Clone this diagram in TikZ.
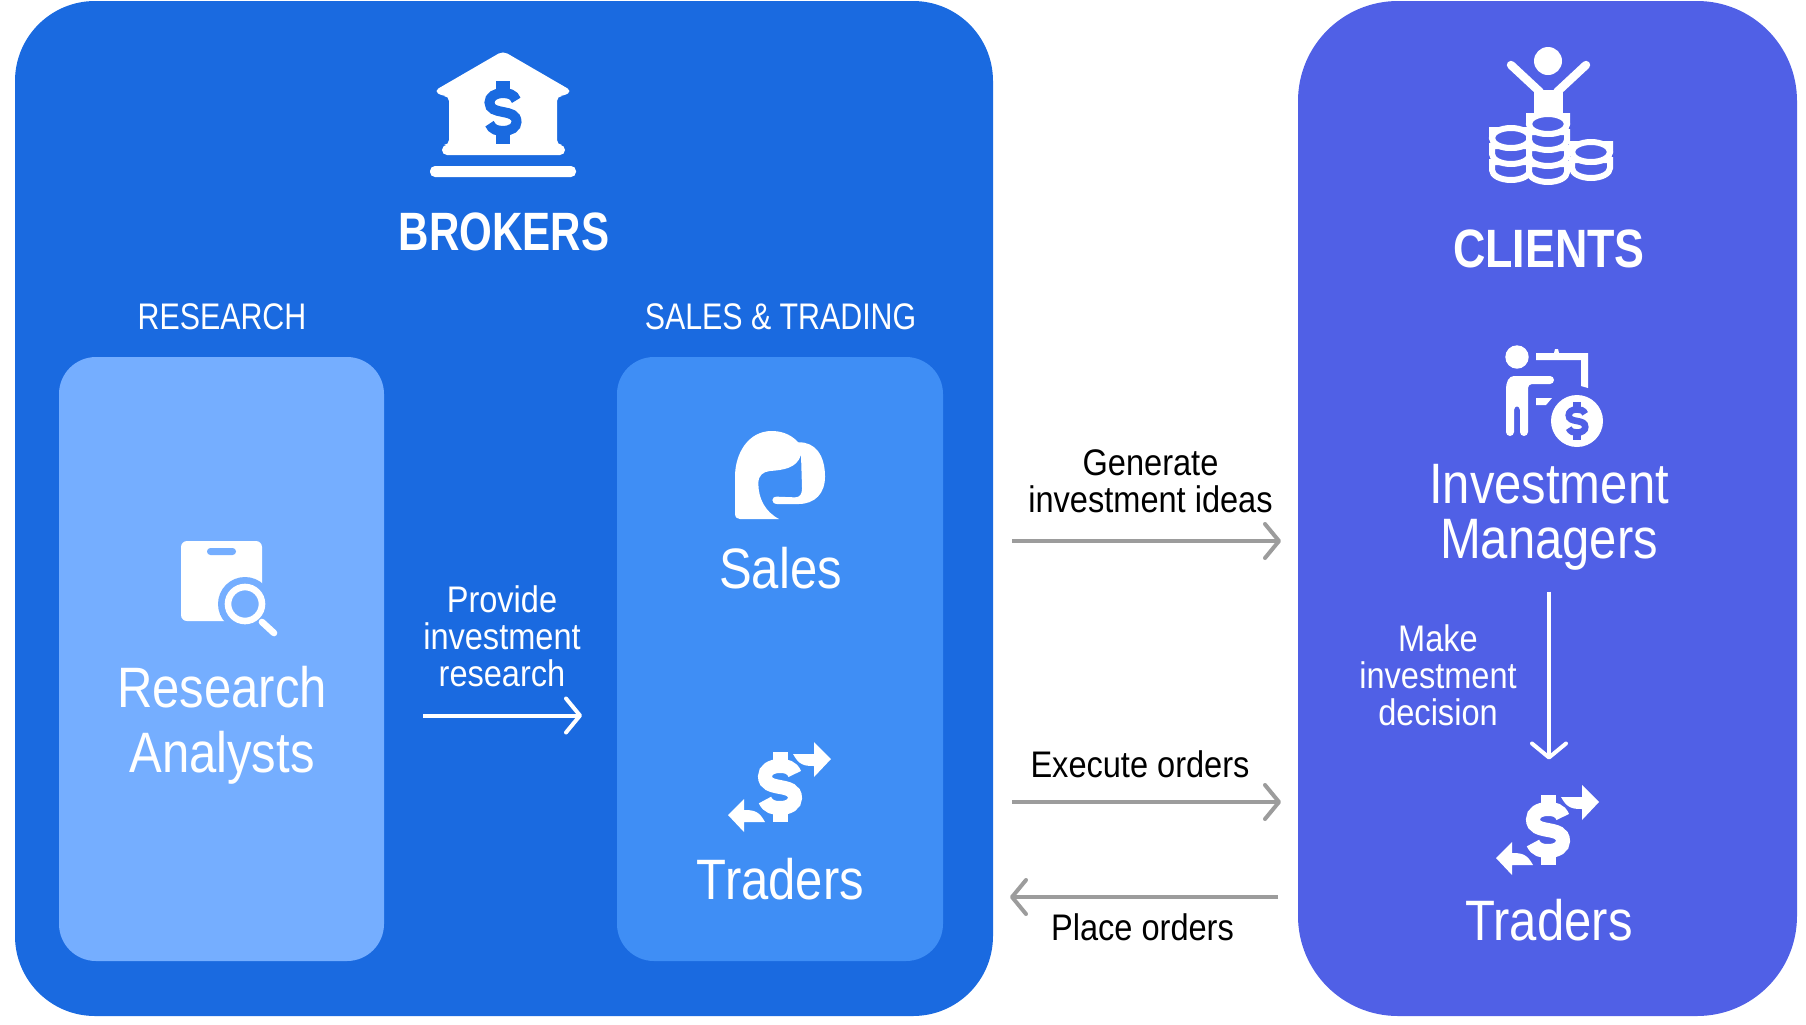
\documentclass[tikz,border=0pt]{standalone}
\usepackage{fontspec}
\setmainfont{Liberation Sans}
\newfontfamily\titlefont[FakeStretch=0.78]{Liberation Sans Bold}
\newfontfamily\clientfont[FakeStretch=0.83]{Liberation Sans Bold}
\newfontfamily\headfont[FakeStretch=0.82]{Liberation Sans}
\newfontfamily\rolefont[FakeStretch=0.86]{Liberation Sans}
\newfontfamily\flowfont[FakeStretch=0.88]{Liberation Sans}
\usetikzlibrary{arrows.meta}

\definecolor{brokerblue}{HTML}{1A6AE0}
\definecolor{clientblue}{HTML}{5060E6}
\definecolor{researchblue}{HTML}{75AEFF}
\definecolor{salesblue}{HTML}{3F8EF5}
\definecolor{flowgrey}{HTML}{9C9C9C}

\tikzset{
    panel/.style={rounded corners=#1,draw=none},
    title/.style={text=white,font=\titlefont\fontsize{27}{30}\selectfont},
    head/.style={text=white,font=\headfont\fontsize{18.5}{20}\selectfont},
    role/.style={text=white,align=center,font=\rolefont\fontsize{28.5}{32.5}\selectfont},
    flowtext/.style={align=center,font=\flowfont\fontsize{18.5}{18.5}\selectfont},
    flow/.style={line width=2pt,draw=flowgrey,-{Straight Barb[length=7pt,width=17pt,round]}},
    whiteflow/.style={flow,draw=white},
    coin/.style={line width=3pt,draw=white,fill=#1},
}

% dollar sign: x, y, scale, line width, colour
\newcommand{\dollarmark}[5]{
    \begin{scope}[shift={(#1,#2)},scale=#3]
        \draw[#5,line width=#4] (14.7,-13) .. controls (12,-20) and (6,-21) .. (0,-21)
            .. controls (-9,-21) and (-15,-17) .. (-15,-10.5)
            .. controls (-15,-3) and (-8,-1.5) .. (0,0)
            .. controls (8,1.5) and (15,3) .. (15,11)
            .. controls (15,17) and (9,21) .. (0,21)
            .. controls (-6,21) and (-12,20) .. (-15,13);
        \fill[#5] (-7.5,-35) rectangle (7.5,-22);
        \fill[#5] (-7.5,22) rectangle (7.5,35);
    \end{scope}
}
% stack of coins: x, y of the top coin, number of layers
\newcommand{\coinstack}[3]{
    \foreach \n in {#3,...,1}{
        \draw[coin=clientblue] (#1-19,{#2+(\n-1)*16}) arc (180:0:19 and 10) -- ++(0,-8) -- ++(-38,0) -- cycle;
    }
    \draw[coin=clientblue] (#1,#2) ellipse (19 and 10);
}
% trader arrows round the dollar
\newcommand{\tradeicon}[2]{
    \dollarmark{#1}{#2}{1}{7pt}{white}
    \begin{scope}[shift={(#1,#2)}]
        \fill[white] (13,-33) -- (34,-33) -- (34,-45) -- (51,-28) -- (34,-10) -- (34,-21)
            .. controls (24,-21) and (19,-22) .. (13,-33) -- cycle;
        \fill[white] (-15,35) -- (-36,35) -- (-36,45) -- (-52,28) -- (-36,12) -- (-36,23)
            .. controls (-26,23) and (-21,24) .. (-15,35) -- cycle;
    \end{scope}
}

\begin{document}
\begin{tikzpicture}[x=0.5pt,y=-0.5pt]
    \useasboundingbox (0,0) rectangle (1806,1024);

    \fill[panel=40pt,brokerblue] (15,1) rectangle (993,1016);
    \fill[panel=50pt,clientblue] (1298,1) rectangle (1797,1016);
    \fill[panel=18.5pt,researchblue] (59,357) rectangle (384,961);
    \fill[panel=18.5pt,salesblue] (617,357) rectangle (943,961);

    % bank
    \fill[white,rounded corners=2.5pt] (503,51) -- (572,91) -- (564,96) -- (557,96) -- (557,145) -- (565,145)
        -- (565,155) -- (442,155) -- (442,145) -- (449,145) -- (449,96) -- (442,96) -- (434,91) -- cycle;
    \fill[white,rounded corners=2.5pt] (430,166) rectangle (576,177);
    \dollarmark{503}{112}{0.9}{5pt}{brokerblue}

    \node[title] (brokers) at (504,232) {BROKERS};
    \node[head] (research) at (222,317) {RESEARCH};
    \node[head] (salestrading) at (780.5,317) {SALES \& TRADING};

    % report with magnifier
    \fill[white,rounded corners=3pt] (181,541) -- (262,541) -- (262,621) -- (181,621) -- cycle;
    \fill[researchblue] (245,604) circle (27);
    \fill[researchblue] (229,621) rectangle (270,640);
    \fill[researchblue,rounded corners=1.7pt] (207,548) rectangle (236,555);
    \draw[white,line width=3.3pt] (245,604) circle (17);
    \draw[white,line width=3.3pt,line cap=round] (262,622) -- (274,633);
    \node[role] (analysts) at (222,725) {Research\\Analysts};

    % headset
    \begin{scope}[shift={(715,420)},x=0.1667pt,y=-0.1667pt]
        \fill[white] (60,280) .. controls (60,292) and (66,297) .. (75,297) -- (192,297)
            .. controls (150,275) and (130,235) .. (130,190)
            .. controls (130,165) and (145,155) .. (165,153)
            .. controls (205,150) and (245,145) .. (258,105)
            -- (261,205) .. controls (261,222) and (255,232) .. (240,232) -- (187,230)
            .. controls (167,228) and (167,252) .. (187,252) -- (250,252)
            .. controls (300,252) and (330,220) .. (330,170)
            .. controls (330,105) and (300,65) .. (250,67)
            .. controls (225,40) and (195,33) .. (170,33)
            .. controls (100,33) and (60,100) .. (60,170) -- cycle;
    \end{scope}
    \node[role] (sales) at (780.5,568.5) {Sales};

    \tradeicon{780}{787}
    \node[role] (traderssales) at (780.5,879.5) {Traders};

    % clients with coins
    \fill[white] (1548,61) circle (14);
    \draw[white,line width=4.2pt,line cap=round] (1511,65) -- (1540,92);
    \draw[white,line width=4.2pt,line cap=round] (1586,65) -- (1557,92);
    \fill[white] (1534,90) -- (1563,90) -- (1563,118) -- (1534,118) -- cycle;
    \coinstack{1591}{152}{2}
    \coinstack{1511}{138}{3}
    \coinstack{1548}{124}{4}
    \node[title,font=\clientfont\fontsize{27}{30}\selectfont] (clients) at (1549,249) {CLIENTS};

    % manager at a board
    \fill[white] (1517,357) circle (11.7);
    \fill[white,rounded corners=2pt] (1506,436) -- (1506,384) -- (1510,376) -- (1554,376) -- (1554,384) -- (1528,384)
        -- (1528,436) -- (1520,436) -- (1520,406) -- (1514,406) -- (1514,436) -- cycle;
    \fill[white] (1536,353) -- (1554,353) -- (1555,349) -- (1558,349) -- (1559,353) -- (1588,353) -- (1588,388) -- (1581,386)
        -- (1581,360) -- (1536,360) -- cycle;
    \fill[white] (1536,398) -- (1552,398) -- (1546,405) -- (1536,405) -- cycle;
    \fill[white] (1577,421) circle (26);
    \dollarmark{1577}{421}{0.55}{3.3pt}{clientblue}
    \node[role,font=\rolefont\fontsize{28.5}{27.5}\selectfont] (managers) at (1549,517.5) {Investment\\Managers};

    \tradeicon{1548}{830}
    \node[role] (tradersclient) at (1549,920) {Traders};

    % flows
    \coordinate (provideA) at (423,715.5);
    \coordinate (provideB) at (582,715.5);
    \draw[whiteflow] (provideA) -- (provideB);
    \node[flowtext,text=white] (provide) at (502,636.5) {Provide\\investment\\research};

    \coordinate (generateA) at (1012,541);
    \coordinate (generateB) at (1281,541);
    \draw[flow] (generateA) -- (generateB);
    \node[flowtext] (generate) at (1150.5,481) {Generate\\investment ideas};

    \coordinate (executeA) at (1012,802);
    \coordinate (executeB) at (1281,802);
    \draw[flow] (executeA) -- (executeB);
    \node[flowtext] (execute) at (1140,764.5) {Execute orders};

    \coordinate (placeA) at (1278,897);
    \coordinate (placeB) at (1010,897);
    \draw[flow] (placeA) -- (placeB);
    \node[flowtext] (place) at (1142.5,927.5) {Place orders};

    \coordinate (makeA) at (1549,591.5);
    \coordinate (makeB) at (1549,759.5);
    \draw[whiteflow] (makeA) -- (makeB);
    \node[flowtext,text=white] (make) at (1438,675.5) {Make\\investment\\decision};
\end{tikzpicture}
\end{document}
